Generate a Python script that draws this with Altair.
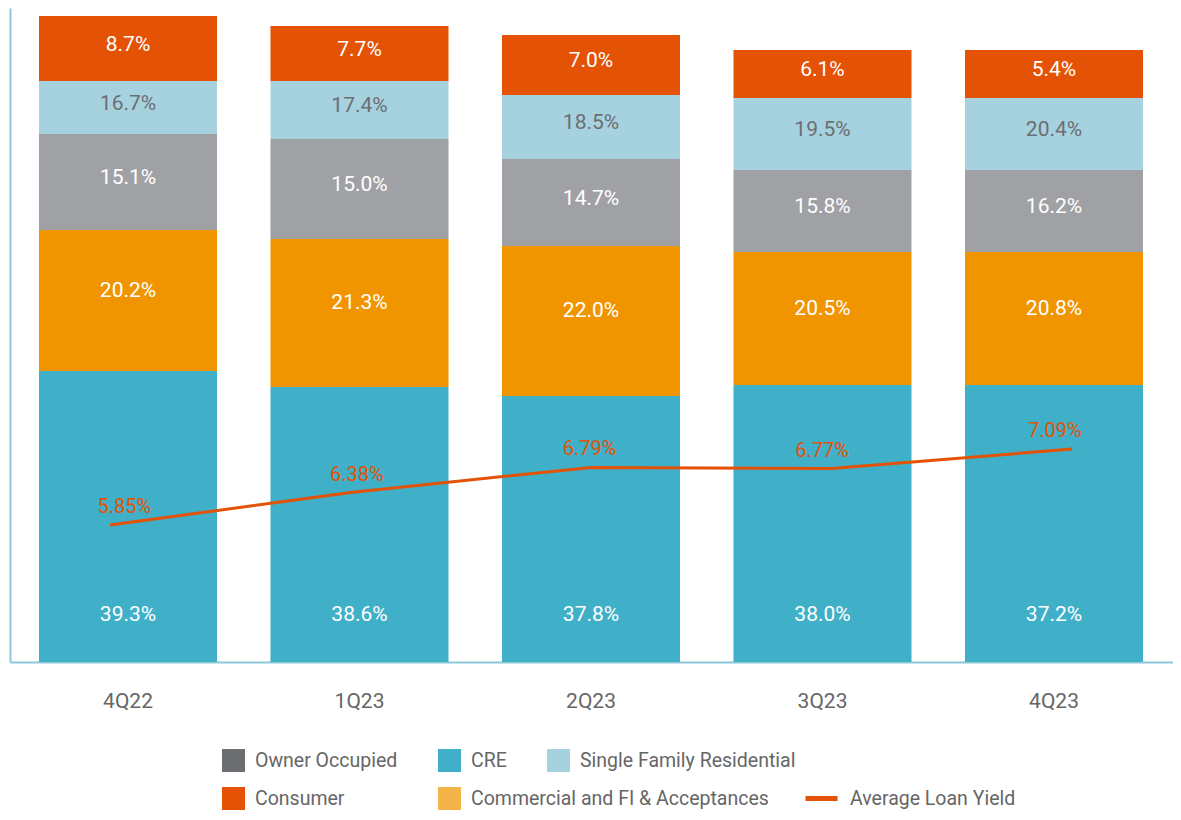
import altair as alt
import pandas as pd

quarters = ["4Q22", "1Q23", "2Q23", "3Q23", "4Q23"]
# stacking order: bottom to top
categories = ["CRE", "Commercial and FI & Acceptances", "Owner Occupied",
              "Single Family Residential", "Consumer"]

# segment sizes as drawn (relative units)
cre_amt = [291, 275, 266, 277, 277]
comm_amt = [141, 148, 150, 133, 133]
oo_amt = [96, 100, 87, 82, 82]
sfr_amt = [53, 58, 64, 72, 72]
cons_amt = [65, 55, 60, 48, 48]

# share labels (%)
cre_pct = [39.3, 38.6, 37.8, 38.0, 37.2]
comm_pct = [20.2, 21.3, 22.0, 20.5, 20.8]
oo_pct = [15.1, 15.0, 14.7, 15.8, 16.2]
sfr_pct = [16.7, 17.4, 18.5, 19.5, 20.4]
cons_pct = [8.7, 7.7, 7.0, 6.1, 5.4]

# average loan yield (%)
yield_vals = [5.85, 6.38, 6.79, 6.77, 7.09]

bar_colors = ["#40afc8", "#f09500", "#a0a1a5", "#a6d2df", "#e35205"]

amounts = [cre_amt, comm_amt, oo_amt, sfr_amt, cons_amt]
pcts = [cre_pct, comm_pct, oo_pct, sfr_pct, cons_pct]
rows = []
for ci, cat in enumerate(categories):
    for qi, q in enumerate(quarters):
        rows.append({"quarter": q, "category": cat, "amount": amounts[ci][qi],
                     "pct": pcts[ci][qi], "order": ci})
df = pd.DataFrame(rows)
ydf = pd.DataFrame({"quarter": quarters, "yld": yield_vals})

FONT = "Roboto"
xband = alt.Scale(domain=quarters, paddingInner=0.231, paddingOuter=0.1274, align=0.4915)
yscale = alt.Scale(domain=[0, 654], nice=False, zero=True)
yyield = alt.Scale(domain=[3.615, 14.285], nice=False, zero=False)

base = alt.Chart(df).transform_stack(
    stack="amount", groupby=["quarter"], sort=[alt.SortField("order", "ascending")],
    as_=["y0", "y1"]
).transform_calculate(
    mid="(datum.y0 + datum.y1) / 2",
    label="format(datum.pct, '.1f') + '%'"
)

bars = base.mark_bar().encode(
    x=alt.X("quarter:N", sort=quarters, scale=xband, title=None,
            axis=alt.Axis(labelAngle=0, ticks=False, tickSize=0, labelPadding=28,
                          labelFont=FONT, labelFontSize=21, labelColor="#666666",
                          domainColor="#8cc8da", domainWidth=2, grid=False)),
    y=alt.Y("y0:Q", scale=yscale, title=None,
            axis=alt.Axis(labels=False, ticks=False, grid=False,
                          domainColor="#8cc8da", domainWidth=2)),
    y2="y1:Q",
    color=alt.Color("category:N", scale=alt.Scale(domain=categories, range=bar_colors),
                    legend=None),
)

txt_color = alt.condition(alt.datum.category == "Single Family Residential",
                          alt.value("#6d6e72"), alt.value("#ffffff"))

upper_txt = base.transform_filter(
    alt.FieldOneOfPredicate(field="category",
                            oneOf=["Owner Occupied", "Single Family Residential", "Consumer"])
).mark_text(font=FONT, fontSize=21, dy=-4).encode(
    x=alt.X("quarter:N", sort=quarters), y=alt.Y("mid:Q"), text="label:N", color=txt_color)

comm_txt = base.transform_filter(
    alt.datum.category == "Commercial and FI & Acceptances"
).mark_text(font=FONT, fontSize=21, dy=-10, color="#ffffff").encode(
    x=alt.X("quarter:N", sort=quarters), y=alt.Y("mid:Q"), text="label:N")

cre_txt = base.transform_filter(
    alt.datum.category == "CRE"
).mark_text(font=FONT, fontSize=21, dy=-47, color="#ffffff").encode(
    x=alt.X("quarter:N", sort=quarters), y=alt.Y("y0:Q"), text="label:N")

bar_group = alt.layer(bars, upper_txt, comm_txt, cre_txt)

line = alt.Chart(ydf).mark_line(color="#e35205", strokeWidth=3).encode(
    x=alt.X("quarter:N", sort=quarters,
            scale=alt.Scale(type="point", domain=quarters, padding=0.4179, align=0.4975),
            axis=None),
    y=alt.Y("yld:Q", scale=yyield, axis=None),
)

yield_txt = alt.Chart(ydf).transform_calculate(
    label="format(datum.yld, '.2f') + '%'"
).mark_text(font=FONT, fontSize=20, dy=-18, color="#e35205").encode(
    x=alt.X("quarter:N", sort=quarters, scale=xband, axis=None),
    y=alt.Y("yld:Q", scale=yyield, axis=None),
    text="label:N",
)


def legend_layer(names, colors, lx, ly, colpad, line_symbol=False):
    common = dict(orient="none", legendX=lx, legendY=ly, direction="horizontal",
                  title=None, padding=0, labelFont=FONT, labelFontSize=19.5,
                  labelColor="#666666", labelOffset=10, columnPadding=colpad,
                  labelLimit=400, symbolOpacity=1)
    if line_symbol:
        leg = alt.Legend(symbolType="stroke", symbolSize=1024, symbolStrokeWidth=5, **common)
        mk = alt.Chart(df).transform_filter("false").mark_line()
    else:
        leg = alt.Legend(symbolType="square", symbolSize=529, symbolStrokeWidth=0, **common)
        mk = alt.Chart(df).transform_filter("false").mark_point(filled=True, shape="square",
                                                               opacity=1)
    return mk.encode(color=alt.Color("category:N",
                                     scale=alt.Scale(domain=names, range=colors),
                                     legend=leg))


leg1 = legend_layer(["Owner Occupied", "CRE", "Single Family Residential"],
                    ["#6d6e72", "#40afc8", "#a6d2df"], 212, 741, 40)
leg2 = legend_layer(["Consumer", "Commercial and FI & Acceptances"],
                    ["#e35205", "#f6b348"], 212, 779, 93)
leg3 = legend_layer(["Average Loan Yield"], ["#e35205"], 793, 772, 10, line_symbol=True)

chart = alt.layer(bar_group, line, yield_txt, leg1, leg2, leg3).resolve_scale(
    x="independent", y="independent", color="independent"
).properties(
    width=1163, height=654,
    autosize=alt.AutoSizeParams(type="none"),
    padding={"left": 2, "top": 0, "right": 0, "bottom": 150},
    background="#ffffff",
).configure_view(stroke=None)

chart.save("out.html", embed_options={"renderer": "svg", "actions": False})
